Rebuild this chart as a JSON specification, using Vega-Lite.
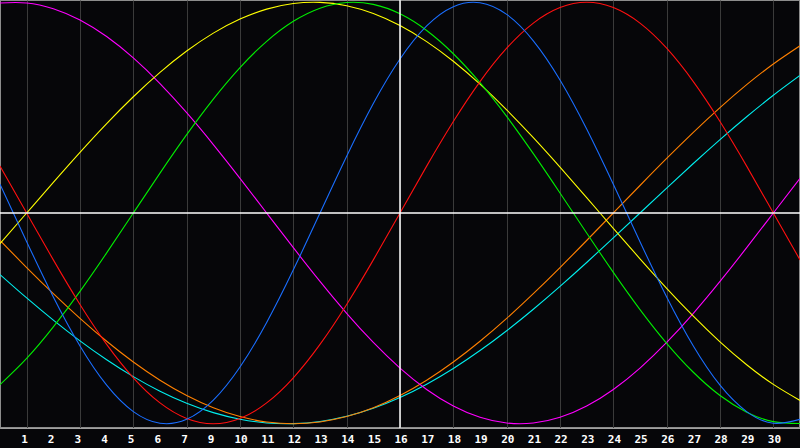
{
  "$schema": "https://vega.github.io/schema/vega-lite/v6.json",
  "width": 800,
  "height": 428,
  "autosize": {"type": "none"},
  "padding": {"left": 0, "top": 0, "right": 0, "bottom": 20},
  "background": "#060609",
  "config": {
    "view": {"stroke": "#8c8c8c", "strokeWidth": 2, "fill": "#060609"}
  },
  "datasets": {
    "labels": [
      {"d":1,"t":"1"},{"d":2,"t":"2"},{"d":3,"t":"3"},{"d":4,"t":"4"},{"d":5,"t":"5"},{"d":6,"t":"6"},{"d":7,"t":"7"},
      {"d":8,"t":"9"},{"d":9,"t":"10"},{"d":10,"t":"11"},{"d":11,"t":"12"},{"d":12,"t":"13"},{"d":13,"t":"14"},
      {"d":14,"t":"15"},{"d":15,"t":"16"},{"d":16,"t":"17"},{"d":17,"t":"18"},{"d":18,"t":"19"},{"d":19,"t":"20"},
      {"d":20,"t":"21"},{"d":21,"t":"22"},{"d":22,"t":"23"},{"d":23,"t":"24"},{"d":24,"t":"25"},{"d":25,"t":"26"},
      {"d":26,"t":"27"},{"d":27,"t":"28"},{"d":28,"t":"29"},{"d":29,"t":"30"}
    ]
  },
  "data": {"values": [
    {"d":0,"pink":0.9966,"yellow":-0.1456,"green":-0.8146,"blue":0.1362,"red":0.2225,"orange":-0.1305,"cyan":-0.2921},
    {"d":1,"pink":0.9966,"yellow":0,"green":-0.6901,"blue":-0.1362,"red":0,"orange":-0.2588,"cyan":-0.4031},
    {"d":2,"pink":0.9694,"yellow":0.1456,"green":-0.5406,"blue":-0.3984,"red":-0.2225,"orange":-0.3827,"cyan":-0.5085},
    {"d":3,"pink":0.9158,"yellow":0.2881,"green":-0.3717,"blue":-0.6311,"red":-0.4339,"orange":-0.5,"cyan":-0.6068},
    {"d":4,"pink":0.8372,"yellow":0.4245,"green":-0.1893,"blue":-0.817,"red":-0.6235,"orange":-0.6088,"cyan":-0.6965},
    {"d":5,"pink":0.7357,"yellow":0.5517,"green":0,"blue":-0.9423,"red":-0.7818,"orange":-0.7071,"cyan":-0.7765},
    {"d":6,"pink":0.6142,"yellow":0.6673,"green":0.1893,"blue":-0.9977,"red":-0.901,"orange":-0.7934,"cyan":-0.8456},
    {"d":7,"pink":0.4759,"yellow":0.7686,"green":0.3717,"blue":-0.9791,"red":-0.9749,"orange":-0.866,"cyan":-0.9028},
    {"d":8,"pink":0.3247,"yellow":0.8536,"green":0.5406,"blue":-0.8879,"red":-1,"orange":-0.9239,"cyan":-0.9473},
    {"d":9,"pink":0.1646,"yellow":0.9203,"green":0.6901,"blue":-0.7308,"red":-0.9749,"orange":-0.9659,"cyan":-0.9785},
    {"d":10,"pink":0,"yellow":0.9675,"green":0.8146,"blue":-0.5196,"red":-0.901,"orange":-0.9914,"cyan":-0.9963},
    {"d":11,"pink":-0.1646,"yellow":0.994,"green":0.9096,"blue":-0.2698,"red":-0.7818,"orange":-1,"cyan":-0.9996},
    {"d":12,"pink":-0.3247,"yellow":0.9993,"green":0.9718,"blue":0,"red":-0.6235,"orange":-0.9914,"cyan":-0.989},
    {"d":13,"pink":-0.4759,"yellow":0.9834,"green":0.9989,"blue":0.2698,"red":-0.4339,"orange":-0.9659,"cyan":-0.9646},
    {"d":14,"pink":-0.6142,"yellow":0.9464,"green":0.9898,"blue":0.5196,"red":-0.2225,"orange":-0.9239,"cyan":-0.9267},
    {"d":15,"pink":-0.7357,"yellow":0.8893,"green":0.945,"blue":0.7308,"red":0,"orange":-0.866,"cyan":-0.8757},
    {"d":16,"pink":-0.8372,"yellow":0.8133,"green":0.866,"blue":0.8879,"red":0.2225,"orange":-0.7934,"cyan":-0.8125},
    {"d":17,"pink":-0.9158,"yellow":0.7199,"green":0.7557,"blue":0.9791,"red":0.4339,"orange":-0.7071,"cyan":-0.7378},
    {"d":18,"pink":-0.9694,"yellow":0.6112,"green":0.6182,"blue":0.9977,"red":0.6235,"orange":-0.6088,"cyan":-0.6528},
    {"d":19,"pink":-0.9966,"yellow":0.4894,"green":0.4582,"blue":0.9423,"red":0.7818,"orange":-0.5,"cyan":-0.5586},
    {"d":20,"pink":-0.9966,"yellow":0.3572,"green":0.2817,"blue":0.817,"red":0.901,"orange":-0.3827,"cyan":-0.4566},
    {"d":21,"pink":-0.9694,"yellow":0.2174,"green":0.0951,"blue":0.6311,"red":0.9749,"orange":-0.2588,"cyan":-0.3482},
    {"d":22,"pink":-0.9158,"yellow":0.073,"green":-0.0951,"blue":0.3984,"red":1,"orange":-0.1305,"cyan":-0.2349},
    {"d":23,"pink":-0.8372,"yellow":-0.073,"green":-0.2817,"blue":0.1362,"red":0.9749,"orange":0,"cyan":-0.1183},
    {"d":24,"pink":-0.7357,"yellow":-0.2174,"green":-0.4582,"blue":-0.1362,"red":0.901,"orange":0.1305,"cyan":0},
    {"d":25,"pink":-0.6142,"yellow":-0.3572,"green":-0.6182,"blue":-0.3984,"red":0.7818,"orange":0.2588,"cyan":0.1183},
    {"d":26,"pink":-0.4759,"yellow":-0.4894,"green":-0.7557,"blue":-0.6311,"red":0.6235,"orange":0.3827,"cyan":0.2349},
    {"d":27,"pink":-0.3247,"yellow":-0.6112,"green":-0.866,"blue":-0.817,"red":0.4339,"orange":0.5,"cyan":0.3482},
    {"d":28,"pink":-0.1646,"yellow":-0.7199,"green":-0.945,"blue":-0.9423,"red":0.2225,"orange":0.6088,"cyan":0.4566},
    {"d":29,"pink":0,"yellow":-0.8133,"green":-0.9898,"blue":-0.9977,"red":0,"orange":0.7071,"cyan":0.5586},
    {"d":30,"pink":0.1646,"yellow":-0.8893,"green":-0.9989,"blue":-0.9791,"red":-0.2225,"orange":0.7934,"cyan":0.6528}
  ]},
  "layer": [
    {
      "transform": [{"fold": ["cyan","orange","pink","yellow","green","red","blue"], "as": ["s","v"]}],
      "mark": {"type": "line", "strokeWidth": 1.1, "interpolate": "natural", "clip": true},
      "encoding": {
        "x": {
          "field": "d", "type": "quantitative",
          "scale": {"domain": [0, 30], "nice": false, "zero": false},
          "axis": {
            "values": [1,2,3,4,5,6,7,8,9,10,11,12,13,14,15,16,17,18,19,20,21,22,23,24,25,26,27,28,29],
            "title": null,
            "grid": true,
            "gridColor": "#3a3a3a",
            "gridWidth": 1,
            "ticks": false,
            "labels": false,
            "domain": true,
            "domainColor": "#a0a0a0",
            "domainWidth": 1
          }
        },
        "y": {
          "field": "v", "type": "quantitative",
          "scale": {"domain": [-1.0202, 1.0107], "nice": false, "zero": false},
          "axis": null
        },
        "color": {
          "field": "s", "type": "nominal",
          "scale": {
            "domain": ["pink","yellow","green","blue","red","orange","cyan"],
            "range": ["#ff00ff","#ffff00","#00ee00","#1a6eff","#ff1010","#ff8000","#00eeee"]
          },
          "legend": null
        }
      }
    },
    {
      "data": {"values": [{}]},
      "mark": {"type": "rule", "color": "#ffffff", "strokeWidth": 1.5},
      "encoding": {"y": {"datum": 0}}
    },
    {
      "data": {"values": [{}]},
      "mark": {"type": "rule", "color": "#ffffff", "strokeWidth": 1.5},
      "encoding": {"x": {"datum": 15}}
    },
    {
      "data": {"name": "labels"},
      "mark": {
        "type": "text", "clip": false, "align": "left", "baseline": "alphabetic", "dx": -5.5,
        "font": "DejaVu Sans Mono", "fontWeight": "bold", "fontSize": 11, "color": "#ffffff"
      },
      "encoding": {
        "x": {"field": "d", "type": "quantitative"},
        "y": {"datum": -1.091},
        "text": {"field": "t"}
      }
    }
  ]
}
